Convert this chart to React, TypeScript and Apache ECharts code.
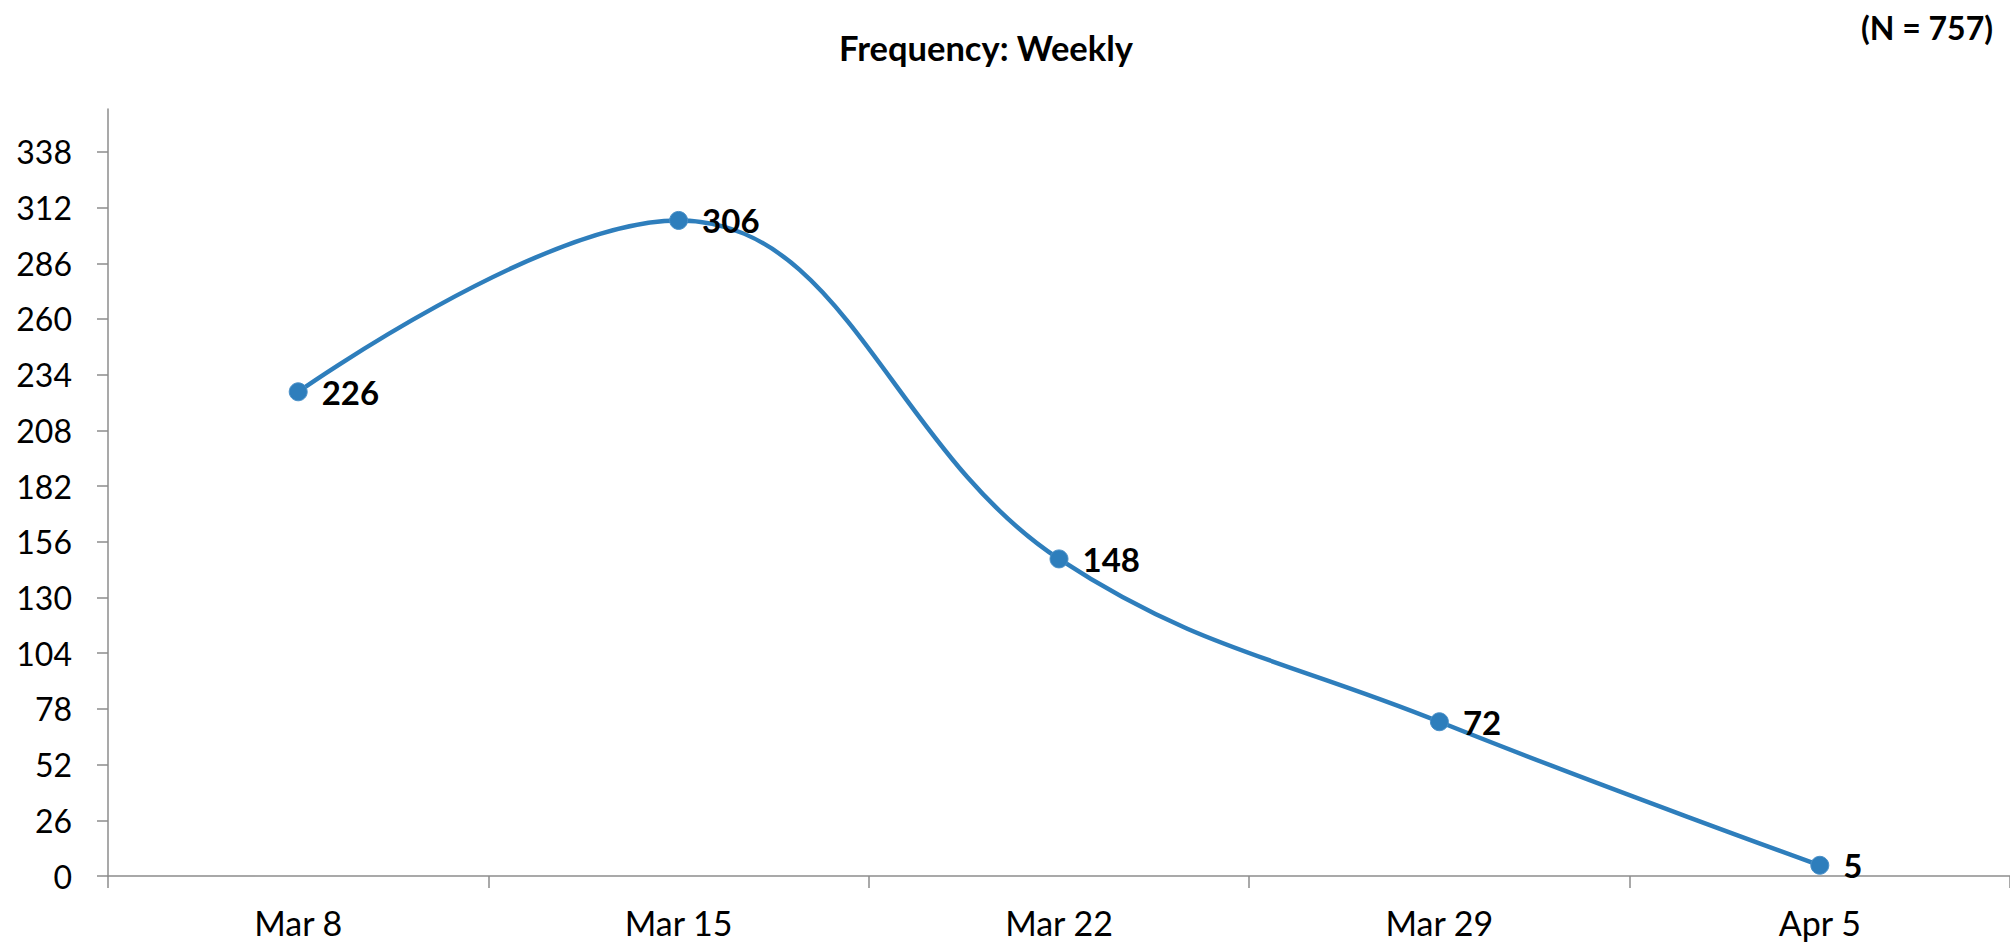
import React, { useEffect, useRef } from "react";
import * as echarts from "echarts";

const categories = ["Mar 8", "Mar 15", "Mar 22", "Mar 29", "Apr 5"];
const values = [226, 306, 148, 72, 5];
const yTicks = [0, 26, 52, 78, 104, 130, 156, 182, 208, 234, 260, 286, 312, 338];
const titleText = "Frequency: Weekly";
const noteText = "(N = 757)";

const FONT = "Lato, 'Noto Sans', sans-serif";
const BLUE = "#2E7EBC";
const AXIS = "#8C8C8C";

export default function App() {
  const ref = useRef<HTMLDivElement>(null);
  useEffect(() => {
    if (!ref.current) return;
    const chart = echarts.init(ref.current, undefined, { renderer: "svg" });
    chart.setOption({
      animation: false,
      backgroundColor: "#ffffff",
      textStyle: { fontFamily: FONT },
      grid: { left: 108, right: 0, top: 109, bottom: 68, containLabel: false },
      graphic: [
        {
          type: "text",
          x: 986,
          y: 47,
          style: {
            text: titleText,
            textAlign: "center",
            textVerticalAlign: "middle",
            fontFamily: FONT,
            fontWeight: "bold",
            fontSize: 34.5,
            fill: "#000",
          },
        },
        {
          type: "text",
          x: 1993,
          y: 27,
          style: {
            text: noteText,
            textAlign: "right",
            textVerticalAlign: "middle",
            fontFamily: FONT,
            fontWeight: "bold",
            fontSize: 32,
            fill: "#000",
          },
        },
      ],
      xAxis: {
        type: "category",
        data: categories,
        boundaryGap: true,
        axisLine: { show: true, lineStyle: { color: AXIS, width: 1.5 } },
        axisTick: { show: true, length: 12, lineStyle: { color: AXIS, width: 1.5 } },
        axisLabel: { margin: 29, fontFamily: FONT, fontSize: 34, color: "#000" },
        splitLine: { show: false },
      },
      yAxis: {
        type: "value",
        min: 0,
        max: 358,
        interval: 26,
        axisLine: { show: true, lineStyle: { color: AXIS, width: 1.5 } },
        axisTick: {
          show: true,
          length: 11,
          customValues: yTicks,
          lineStyle: { color: AXIS, width: 1.5 },
        },
        axisLabel: {
          margin: 36,
          customValues: yTicks,
          fontFamily: FONT,
          fontSize: 32,
          color: "#000",
          formatter: (v: number) => (yTicks.indexOf(v) >= 0 ? String(v) : ""),
        },
        splitLine: { show: false },
      },
      series: [
        {
          type: "line",
          data: values,
          smooth: 0.4,
          symbol: "circle",
          symbolSize: 18,
          lineStyle: { color: BLUE, width: 4.5 },
          itemStyle: { color: BLUE, borderColor: "#4A90C8", borderWidth: 1 },
          label: {
            show: true,
            position: "right",
            distance: 14,
            fontFamily: FONT,
            fontWeight: "bold",
            fontSize: 33,
            color: "#000",
          },
        },
      ],
    });
    return () => chart.dispose();
  }, []);
  return (
    <div
      ref={ref}
      style={{ position: "fixed", left: 0, top: 0, width: 2010, height: 944 }}
    />
  );
}
